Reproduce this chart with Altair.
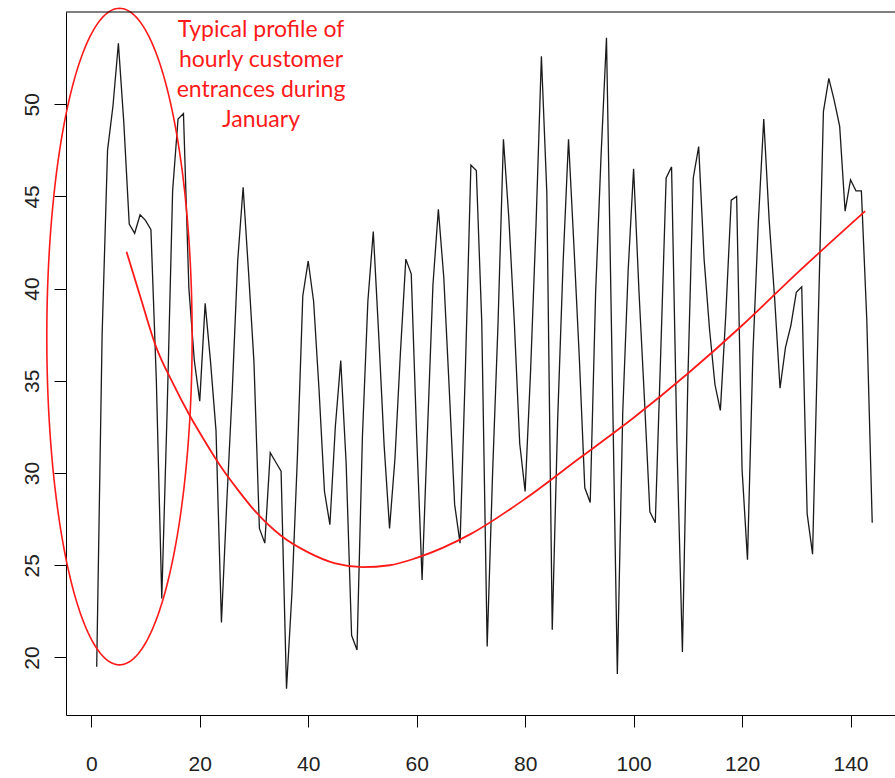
import altair as alt
import numpy as np
import pandas as pd

# Hourly customer entrances, 144 consecutive hours
hours = list(range(1, 145))
entrances = [
    19.5, 37.5, 47.5, 49.9, 53.3, 49.0, 43.5, 43.0, 44.0, 43.7, 43.2, 35.0,
    23.2, 33.5, 45.3, 49.2, 49.5, 40.0, 36.1, 33.9, 39.2, 36.0, 32.3, 21.9,
    28.5, 34.5, 41.5, 45.5, 40.9, 36.0, 27.0, 26.2, 31.1, 30.6, 30.1, 18.3,
    23.5, 30.8, 39.6, 41.5, 39.3, 34.5, 29.0, 27.2, 32.5, 36.1, 30.5, 21.2,
    20.4, 32.0, 39.3, 43.1, 37.5, 31.5, 27.0, 30.8, 36.5, 41.6, 40.8, 32.0,
    24.2, 32.3, 40.2, 44.3, 40.6, 34.6, 28.3, 26.2, 35.8, 46.7, 46.4, 38.2,
    20.6, 30.0, 38.1, 48.1, 43.8, 38.2, 31.6, 29.0, 35.5, 43.4, 52.6, 45.2,
    21.5, 32.9, 41.4, 48.1, 42.3, 36.2, 29.2, 28.4, 39.8, 47.2, 53.6, 36.5,
    19.1, 33.3, 41.0, 46.5, 39.8, 34.0, 27.9, 27.3, 36.5, 46.0, 46.6, 31.5,
    20.3, 35.0, 46.0, 47.7, 41.6, 37.8, 34.8, 33.4, 38.6, 44.8, 45.0, 30.2,
    25.3, 36.5, 43.6, 49.2, 43.7, 39.5, 34.6, 36.8, 38.0, 39.8, 40.1, 27.8,
    25.6, 37.7, 49.6, 51.4, 50.2, 48.8, 44.2, 45.9, 45.3, 45.3, 38.3, 27.3,
]

# Smoothed trend of the series
trend_hours = [6.5, 9, 12, 15, 18, 21, 24, 27, 30, 35, 40, 45, 50, 55, 60,
               70, 80, 90, 100, 110, 120, 130, 142.7]
trend_values = [42.0, 39.6, 36.8, 34.9, 33.2, 31.7, 30.3, 29.1, 28.0, 26.6,
                25.7, 25.1, 24.9, 25.0, 25.4, 26.7, 28.6, 30.8, 33.0, 35.4,
                38.0, 40.8, 44.2]

x_ticks = [0, 20, 40, 60, 80, 100, 120, 140]
y_ticks = [20, 25, 30, 35, 40, 45, 50]

note_lines = ["Typical profile of", "hourly customer", "entrances during", "January"]

# Ellipse highlighting the first day (centre and radii in data units)
ellipse_center = (5.2, 37.4)
ellipse_radii = (13.4, 17.8)

PLOT_W = 829
PLOT_H = 703
x_scale = alt.Scale(domain=[-4.66, 148.2], nice=False, zero=False)
y_scale = alt.Scale(domain=[16.88, 55.0], nice=False, zero=False)

series = pd.DataFrame({"hour": hours, "entrances": entrances})
trend = pd.DataFrame({"hour": trend_hours, "entrances": trend_values})

angles = np.linspace(0, 2 * np.pi, 241)
ellipse = pd.DataFrame({
    "step": np.arange(len(angles)),
    "hour": ellipse_center[0] + ellipse_radii[0] * np.cos(angles),
    "entrances": ellipse_center[1] + ellipse_radii[1] * np.sin(angles),
})

axis_common = dict(
    grid=False,
    title=None,
    domainColor="black",
    domainWidth=1,
    tickColor="black",
    tickWidth=1,
    tickSize=12,
    labelFont="Liberation Sans",
    labelFontSize=21,
    labelColor="#222222",
    labelFlush=False,
    labelOverlap=False,
)

x_enc = alt.X("hour:Q", scale=x_scale,
              axis=alt.Axis(values=x_ticks, labelPadding=26, **axis_common))
y_enc = alt.Y("entrances:Q", scale=y_scale,
              axis=alt.Axis(values=y_ticks, labelAngle=270, labelAlign="center",
                            labelBaseline="alphabetic", labelPadding=16,
                            **axis_common))

line = alt.Chart(series).mark_line(color="#1a1a1a", strokeWidth=1.3).encode(
    x=x_enc, y=y_enc, order="hour:Q"
)

trend_line = alt.Chart(trend).mark_line(
    color="#ff1a1a", strokeWidth=1.8, interpolate="monotone"
).encode(x="hour:Q", y="entrances:Q")

ellipse_line = alt.Chart(ellipse).mark_line(
    color="#ff1a1a", strokeWidth=1.6, clip=False
).encode(x="hour:Q", y="entrances:Q", order="step:Q")

top_border = alt.Chart(pd.DataFrame({"k": [0]})).mark_rule(
    color="black", strokeWidth=1
).encode(x=alt.value(0), x2=alt.value(PLOT_W), y=alt.value(0))

note = alt.Chart(pd.DataFrame({"k": [0]})).mark_text(
    color="#ff1a1a", font="Lato", fontSize=23, align="center",
    baseline="top", lineHeight=30,
).encode(x=alt.value(195), y=alt.value(7), text=alt.value(note_lines))

chart = alt.layer(line, trend_line, ellipse_line, top_border, note).properties(
    width=PLOT_W,
    height=PLOT_H,
    autosize="none",
    padding={"left": 66, "top": 12, "right": 0, "bottom": 63},
    background="white",
).configure_view(stroke=None)

chart.save("out.html", embed_options={"renderer": "svg", "actions": False})
